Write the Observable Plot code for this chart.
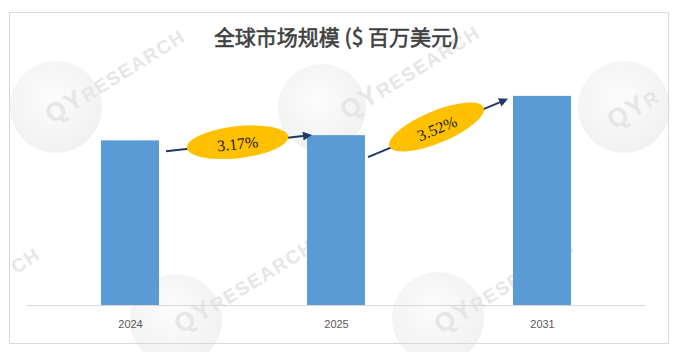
<!DOCTYPE html>
<html>
<head>
<meta charset="utf-8">
<script src="https://cdn.jsdelivr.net/npm/d3@7"></script>
<script src="https://cdn.jsdelivr.net/npm/@observablehq/plot@0.6"></script>
<style>
  html, body { margin: 0; padding: 0; background: #fff; }
  #wrap { position: relative; width: 682px; height: 352px; overflow: hidden; }
  #wm, #chart { position: absolute; left: 0; top: 0; }
  #border { position: absolute; left: 9px; top: 12px; width: 658px; height: 330px; border: 1px solid #d9d9d9; }
</style>
</head>
<body>
<div id="wrap">
  <svg id="wm" width="682" height="352" xmlns="http://www.w3.org/2000/svg"></svg>
  <div id="border"></div>
  <div id="chart"></div>
</div>
<script>
// ---- data ----
const title = "全球市场规模 ($ 百万美元)";
const years = ["2024", "2025", "2031"];
const values = [1640, 1692, 2083];          // relative market size
const growthLabels = ["3.17%", "3.52%"];     // CAGR between consecutive bars
const watermarkText = "QYRESEARCH";

const data = years.map((year, i) => ({year, value: values[i]}));
const segments = growthLabels.map((label, i) => ({from: data[i], to: data[i + 1], label}));

// ---- decorative watermark (background, not data) ----
(function drawWatermark() {
  const svg = d3.select("#wm");
  const defs = svg.append("defs");
  const grad = defs.append("radialGradient").attr("id", "globe").attr("cx", "45%").attr("cy", "40%").attr("r", "60%");
  grad.append("stop").attr("offset", "0%").attr("stop-color", "#fcfcfc");
  grad.append("stop").attr("offset", "100%").attr("stop-color", "#f1f1f1");
  const globes = [[56, 107, 46], [322, 108, 44], [624, 107, 46], [176, 320, 46], [438, 318, 46]];
  svg.selectAll("circle").data(globes).join("circle")
    .attr("cx", d => d[0]).attr("cy", d => d[1]).attr("r", d => d[2])
    .attr("fill", "url(#globe)");
  // [x, y, anchor, first, last] — visible part of each watermark
  const texts = [
    [187, 40, "end", 0, 10], [482, 36, "end", 0, 10], [614, 130, "start", 0, 3],
    [316, 250, "end", 0, 10], [576, 250, "end", 0, 10], [42, 258, "end", 8, 10]
  ];
  const t = svg.selectAll("text").data(texts).join("text")
    .attr("transform", d => `translate(${d[0]},${d[1]}) rotate(-32)`)
    .attr("text-anchor", d => d[2])
    .attr("font-family", "Liberation Sans, Arial, sans-serif")
    .attr("font-weight", "bold")
    .attr("fill", "#e6e6e6")
    .attr("letter-spacing", 1.5);
  t.each(function(d) {
    const s = watermarkText.slice(d[3], d[4]);
    const sel = d3.select(this);
    const big = s.slice(0, Math.max(0, 2 - d[3]));
    if (big) sel.append("tspan").attr("font-size", 26).text(big);
    sel.append("tspan").attr("font-size", 19).text(s.slice(big.length));
  });
})();

// ---- growth arrows + ellipses, drawn through the plot's scales ----
const startOffset = [[7, 11], [3, 22]];
const endOffset = [[5, 0], [-5, 3]];
function growthArrows(index, scales) {
  const x = scales.x, y = scales.y;
  const bw = x.bandwidth();
  const g = d3.create("svg:g");
  segments.forEach((s, i) => {
    const x0 = x(s.from.year) + bw + startOffset[i][0];
    const y0 = y(s.from.value) + startOffset[i][1];
    const x1 = x(s.to.year) + endOffset[i][0];
    const y1 = y(s.to.value) + endOffset[i][1];
    const ang = Math.atan2(y1 - y0, x1 - x0);
    const deg = ang * 180 / Math.PI;
    const head = 9, hw = 4.5;
    const bx = x1 - head * Math.cos(ang), by = y1 - head * Math.sin(ang);
    g.append("line")
      .attr("x1", x0).attr("y1", y0).attr("x2", bx).attr("y2", by)
      .attr("stroke", "#1f3864").attr("stroke-width", 2);
    g.append("polygon")
      .attr("points", [
        [x1, y1],
        [bx + hw * Math.sin(ang), by - hw * Math.cos(ang)],
        [bx - hw * Math.sin(ang), by + hw * Math.cos(ang)]
      ].map(p => p.join(",")).join(" "))
      .attr("fill", "#1f3864");
    const mx = (x0 + x1) / 2 - 1.5, my = (y0 + y1) / 2 - 1;
    const eg = g.append("g").attr("transform", `translate(${mx},${my}) rotate(${deg})`);
    eg.append("ellipse").attr("rx", 51).attr("ry", 16).attr("fill", "#ffc000");
    eg.append("text")
      .attr("y", 1.5)
      .attr("text-anchor", "middle")
      .attr("dominant-baseline", "central")
      .attr("font-family", "Liberation Serif, Times New Roman, serif")
      .attr("font-size", 16)
      .attr("fill", "#1a1a1a")
      .text(s.label);
  });
  return g.node();
}

const plot = Plot.plot({
  width: 682,
  height: 352,
  marginLeft: 27,
  marginRight: 37,
  marginTop: 54,
  marginBottom: 47,
  style: {background: "transparent", overflow: "visible"},
  x: {domain: years, paddingInner: 0.72, paddingOuter: 0.36, label: null},
  y: {domain: [0, 2500], axis: null},
  marks: [
    Plot.barY(data, {x: "year", y: "value", fill: "#5b9bd5"}),
    Plot.ruleY([0], {stroke: "#d9d9d9", strokeWidth: 1}),
    Plot.axisX({tickSize: 0, tickPadding: 15, fontSize: 11, fill: "#595959",
                fontFamily: "Liberation Sans, Arial, sans-serif", label: null}),
    Plot.text([title], {frameAnchor: "top", dy: -16, lineAnchor: "middle", fontSize: 21,
                fontFamily: "Noto Sans CJK SC, sans-serif", fontWeight: "normal", fill: "#404040",
                stroke: "#404040", strokeWidth: 0.6, text: d => d}),
    growthArrows
  ]
});
document.getElementById("chart").appendChild(plot);
</script>
</body>
</html>
